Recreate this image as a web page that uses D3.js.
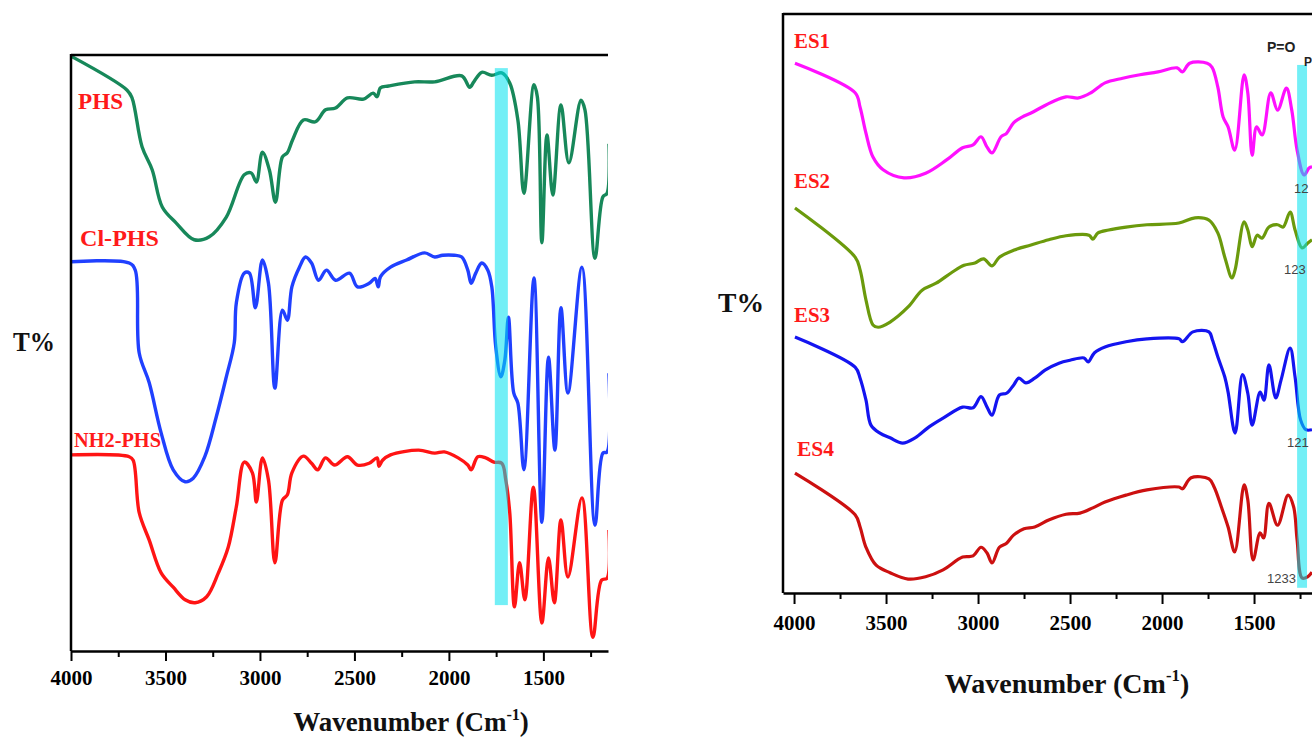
<!DOCTYPE html>
<html>
<head>
<meta charset="utf-8">
<script src="https://cdn.jsdelivr.net/npm/d3@7"></script>
<style>
  body { margin: 0; background: #fff; }
  svg { display: block; }
  .tick text { font-family: "Liberation Serif", "Times New Roman", serif; font-weight: bold; }
</style>
</head>
<body>
<div id="chart"></div>
<script>
'use strict';

// ---- data : wavenumber (cm-1), transmittance (a.u., stacked) ----
const PHS = [[4000,99.8],[3703,94.1],[3677,92.8],[3624,84.6],[3570,80.7],[3517,74.5],[3443,71.8],[3348,69.0],[3268,69.5],[3178,72.8],[3083,79.9],[3046,80.2],[3019,78.7],[2987,83.7],[2950,80.7],[2918,75.3],[2881,82.9],[2855,83.6],[2828,85.7],[2770,89.1],[2706,88.8],[2653,90.8],[2600,91.1],[2537,92.8],[2452,92.6],[2401,93.6],[2380,93.0],[2362,94.5],[2319,94.8],[2181,95.5],[2075,95.5],[1932,96.5],[1890,94.6],[1868,95.5],[1826,97.1],[1773,96.6],[1720,97.0],[1678,95.3],[1635,89.1],[1603,76.8],[1550,95.0],[1532,93.0],[1508,68.5],[1481,86.6],[1450,76.5],[1407,91.6],[1365,81.9],[1301,92.4],[1280,90.8],[1227,65.9],[1185,76.2],[1163,76.8],[1153,85.2]];

const CL_PHS = [[4000,65.3],[3692,65.1],[3660,63.9],[3639,50.0],[3586,45.0],[3523,36.6],[3459,30.4],[3396,28.4],[3353,29.0],[3292,32.6],[3231,39.3],[3178,46.0],[3136,51.7],[3125,58.4],[3083,63.4],[3056,63.4],[3024,57.6],[2987,65.6],[2955,61.7],[2921,44.1],[2881,57.2],[2855,55.5],[2831,61.1],[2791,64.4],[2759,66.1],[2727,65.1],[2690,62.2],[2648,63.9],[2600,62.2],[2526,63.4],[2484,61.1],[2422,61.7],[2391,62.5],[2374,61.1],[2362,62.8],[2309,64.4],[2224,65.6],[2128,66.8],[2075,66.1],[2033,66.4],[1972,66.4],[1932,66.1],[1900,63.9],[1882,61.7],[1858,63.4],[1826,65.1],[1794,63.9],[1773,61.1],[1752,51.0],[1725,46.0],[1704,48.8],[1685,56.0],[1657,43.3],[1635,41.6],[1603,30.4],[1550,62.6],[1508,21.6],[1473,49.3],[1439,33.7],[1407,57.6],[1370,43.3],[1296,64.4],[1227,21.1],[1185,33.2],[1163,33.4],[1153,46.6]];

const NH2_PHS = [[4000,32.9],[3692,32.6],[3671,32.0],[3639,23.2],[3586,18.6],[3523,13.1],[3459,10.7],[3396,8.6],[3343,8.1],[3282,9.1],[3220,13.1],[3168,17.4],[3125,24.2],[3083,31.7],[3040,29.9],[3019,25.0],[2987,32.4],[2955,28.7],[2921,14.8],[2881,25.3],[2855,26.2],[2831,29.9],[2770,32.7],[2727,31.5],[2695,30.4],[2653,32.4],[2605,31.2],[2537,32.6],[2484,31.2],[2422,31.5],[2380,32.4],[2370,31.0],[2351,32.0],[2309,32.9],[2160,33.7],[2075,33.2],[2024,33.4],[1951,32.4],[1900,31.2],[1882,30.4],[1847,32.6],[1805,32.4],[1762,31.7],[1720,31.5],[1699,28.7],[1678,23.2],[1653,7.4],[1626,14.8],[1598,8.6],[1553,27.5],[1508,4.7],[1473,15.6],[1442,8.1],[1407,22.0],[1370,12.4],[1296,25.7],[1238,2.3],[1192,11.9],[1163,12.2],[1153,20.3]];

const ES1 = [[3995,91.5],[3668,86.4],[3641,83.9],[3609,79.4],[3571,75.3],[3516,73.1],[3402,71.7],[3285,72.5],[3171,74.8],[3084,76.9],[3027,77.4],[2984,78.8],[2951,77.0],[2924,76.0],[2875,78.8],[2845,79.4],[2807,81.2],[2761,82.2],[2712,82.9],[2654,83.9],[2598,84.8],[2522,85.7],[2453,85.5],[2386,86.4],[2310,88.1],[2214,88.9],[2120,89.5],[2022,90.0],[1918,90.7],[1889,90.0],[1850,91.5],[1755,91.5],[1728,90.8],[1697,87.4],[1668,82.2],[1641,80.5],[1605,76.5],[1554,89.5],[1534,86.4],[1510,75.6],[1486,80.5],[1456,79.1],[1409,86.4],[1372,83.4],[1324,87.2],[1295,83.4],[1266,76.5],[1228,72.2],[1201,73.4],[1185,73.6]];

const ES2 = [[3995,66.5],[3668,58.0],[3641,55.8],[3609,50.6],[3571,46.3],[3543,45.9],[3478,46.8],[3380,49.4],[3304,52.3],[3228,53.5],[3141,55.4],[3076,56.6],[3017,57.0],[2970,57.7],[2924,56.5],[2884,58.0],[2807,59.2],[2712,60.1],[2616,61.0],[2522,61.7],[2397,61.8],[2376,61.1],[2348,62.2],[2290,62.7],[2196,63.2],[2082,63.6],[1908,63.9],[1821,64.8],[1745,64.4],[1697,62.2],[1659,58.0],[1620,54.4],[1603,55.8],[1554,64.1],[1534,62.7],[1510,59.8],[1483,61.8],[1457,61.3],[1419,63.2],[1372,63.6],[1342,63.2],[1304,65.8],[1277,62.7],[1239,59.6],[1209,60.4],[1185,61.0]];

const ES3 = [[3995,44.2],[3668,39.0],[3641,37.1],[3609,33.3],[3582,29.0],[3533,27.6],[3478,26.8],[3410,25.9],[3342,26.8],[3266,28.7],[3190,30.2],[3084,32.1],[3027,32.0],[2984,33.9],[2951,32.1],[2924,30.7],[2884,34.2],[2845,34.5],[2807,35.9],[2778,37.1],[2740,36.3],[2692,37.1],[2636,38.5],[2560,39.7],[2500,40.2],[2424,40.6],[2402,39.9],[2367,41.5],[2310,42.5],[2196,43.4],[2082,43.9],[1908,43.9],[1889,43.4],[1832,45.1],[1745,45.1],[1726,43.7],[1697,40.8],[1659,37.3],[1641,34.7],[1603,27.6],[1563,37.7],[1534,34.5],[1510,29.0],[1467,34.7],[1446,33.3],[1419,39.4],[1382,33.7],[1353,36.8],[1304,42.3],[1277,37.3],[1247,29.9],[1218,28.2],[1185,28.2]];

const ES4 = [[3995,20.7],[3668,13.5],[3641,11.4],[3609,7.9],[3554,4.8],[3478,3.5],[3380,2.4],[3285,2.8],[3190,4.0],[3084,6.2],[3027,6.4],[2984,7.9],[2951,6.9],[2924,5.2],[2884,7.9],[2845,8.6],[2807,10.0],[2750,11.1],[2692,11.4],[2616,12.6],[2522,13.6],[2446,13.8],[2376,14.7],[2310,15.7],[2196,16.9],[2082,17.8],[1908,18.3],[1889,18.0],[1842,19.9],[1745,19.7],[1717,18.3],[1678,14.9],[1641,11.4],[1605,7.1],[1554,18.7],[1534,16.1],[1505,5.7],[1467,10.4],[1448,9.5],[1419,15.5],[1372,11.7],[1315,16.9],[1285,14.9],[1266,9.2],[1239,2.6],[1209,2.8],[1185,3.6]];

const leftNames = ["PHS", "Cl-PHS", "NH2-PHS"];
const rightNames = ["ES1", "ES2", "ES3", "ES4"];
const majorTicks = [4000, 3500, 3000, 2500, 2000, 1500];
const minorTicks = [3750, 3250, 2750, 2250, 1750, 1250];
const leftBand = [1757, 1688];      // C=O region
const rightBand = [1266, 1212];     // P=O region
// only the part of each peak label that shows in the cropped figure
const peakLabels = ["12", "123", "121", "1233"];

const W = 1312, H = 737;
const serif = '"Liberation Serif", "Times New Roman", serif';
const sans = '"Liberation Sans", Arial, sans-serif';

var svg = d3.select("#chart").append("svg")
    .attr("width", W).attr("height", H);

svg.append("defs").append("clipPath").attr("id", "clipL")
    .append("rect").attr("x", 71).attr("y", 0).attr("width", 537).attr("height", H);
svg.select("defs").append("clipPath").attr("id", "clipR")
    .append("rect").attr("x", 783).attr("y", 0).attr("width", W - 783).attr("height", H);

// set the ranges
var xL = d3.scaleLinear().domain([4000, 1158]).range([71, 608]);
var yL = d3.scaleLinear().domain([0, 100]).range([651, 55]);
var xR = d3.scaleLinear().domain([4060, 1185]).range([783, 1312]);
var yR = d3.scaleLinear().domain([0, 100]).range([593, 14]);

function drawPanel(x, y, series, colors, width, clipId, band, bandTop, bandBottom){
    let g = svg.append("g").attr("clip-path", "url(#" + clipId + ")");
    let line = d3.line()
        .x(function(d){ return x(d[0]); })
        .y(function(d){ return y(d[1]); })
        .curve(d3.curveCatmullRom.alpha(0.5));
    series.forEach(function(s, i){
        g.append("path")
            .attr("d", line(s))
            .attr("fill", "none")
            .attr("stroke", colors[i])
            .attr("stroke-width", width)
            .attr("stroke-linejoin", "round");
    });
    // highlight band drawn over the curves
    g.append("rect")
        .attr("x", x(band[0]))
        .attr("width", x(band[1]) - x(band[0]))
        .attr("y", y(bandTop))
        .attr("height", y(bandBottom) - y(bandTop))
        .attr("fill", "#00e2ee")
        .attr("fill-opacity", 0.55);
}

function drawAxes(x, y, bottom, tickLen, pad){
    let r = x.range();
    // frame : top and left
    svg.append("line").attr("x1", r[0]).attr("x2", r[1])
        .attr("y1", y.range()[1]).attr("y2", y.range()[1])
        .attr("stroke", "#000").attr("stroke-width", 2.5);
    svg.append("line").attr("x1", r[0]).attr("x2", r[0])
        .attr("y1", y.range()[1] - 1).attr("y2", bottom)
        .attr("stroke", "#000").attr("stroke-width", 2.5);

    let gx = svg.append("g").attr("transform", "translate(0," + bottom + ")");
    gx.call(d3.axisBottom(x).tickValues(majorTicks).tickSize(tickLen)
        .tickSizeOuter(0).tickPadding(pad).tickFormat(d3.format("d")));
    gx.select(".domain").attr("stroke-width", 2.5);
    gx.selectAll(".tick line").attr("stroke-width", 2);
    gx.selectAll(".tick text").attr("font-size", 21).attr("fill", "#000");

    let gm = svg.append("g").attr("transform", "translate(0," + bottom + ")");
    gm.call(d3.axisBottom(x).tickValues(minorTicks.filter(function(d){ return d > x.domain()[1]; }))
        .tickSize(6).tickSizeOuter(0).tickFormat(""));
    gm.select(".domain").remove();
    gm.selectAll(".tick line").attr("stroke-width", 2);
}

// ---- left panel ----
drawPanel(xL, yL, [PHS, CL_PHS, NH2_PHS], ["#17885a", "#2040ff", "#ff1414"], 3.4, "clipL", leftBand, 97.8, 7.7);
drawAxes(xL, yL, 651, 10, 9);

// ---- right panel ----
drawPanel(xR, yR, [ES1, ES2, ES3, ES4], ["#ff10ff", "#6b9a0c", "#1414f0", "#cc1010"], 3.2, "clipR", rightBand, 91.2, 0.9);
drawAxes(xR, yR, 593, 11, 11);

// series labels
function label(txt, x, y, size, len){
    let t = svg.append("text")
        .attr("x", x).attr("y", y)
        .attr("font-family", serif).attr("font-weight", "bold")
        .attr("font-size", size).attr("fill", "#ff1a1a")
        .text(txt);
    if(len){ t.attr("textLength", len).attr("lengthAdjust", "spacingAndGlyphs"); }
}
label(leftNames[0], 78, 109, 23, 45);
label(leftNames[1], 80, 246, 23, 79);
label(leftNames[2], 74, 447, 20, 87);
label(rightNames[0], 794, 48, 21, 36);
label(rightNames[1], 794, 188, 21, 36);
label(rightNames[2], 794, 322, 21, 36);
label(rightNames[3], 797, 456, 21, 37);

// y titles
[[13, 351, 42], [718, 312, 46]].forEach(function(p){
    svg.append("text").attr("x", p[0]).attr("y", p[1])
        .attr("font-family", serif).attr("font-weight", "bold")
        .attr("font-size", 27).attr("fill", "#111")
        .attr("textLength", p[2]).attr("lengthAdjust", "spacingAndGlyphs")
        .text("T%");
});

// x titles
[[411, 731, 27], [1067, 693, 28]].forEach(function(p){
    let t = svg.append("text").attr("x", p[0]).attr("y", p[1])
        .attr("text-anchor", "middle")
        .attr("font-family", serif).attr("font-weight", "bold")
        .attr("font-size", p[2]).attr("fill", "#111");
    t.append("tspan").text("Wavenumber (Cm");
    t.append("tspan").attr("font-size", p[2] * 0.6).attr("dy", -p[2] * 0.42).text("-1");
    t.append("tspan").attr("dy", p[2] * 0.42).text(")");
});

// annotations on the right panel
svg.append("text").attr("x", 1267).attr("y", 52)
    .attr("font-family", sans).attr("font-weight", "bold").attr("font-size", 14)
    .attr("fill", "#222").text("P=O");
svg.append("text").attr("x", 1304).attr("y", 66)
    .attr("font-family", sans).attr("font-weight", "bold").attr("font-size", 12)
    .attr("fill", "#222").text("P");
[[1294, 193], [1284, 274], [1287, 447], [1267, 583]].forEach(function(p, i){
    svg.append("text").attr("x", p[0]).attr("y", p[1])
        .attr("font-family", sans).attr("font-size", 13)
        .attr("fill", "#444").text(peakLabels[i]);
});
</script>
</body>
</html>
